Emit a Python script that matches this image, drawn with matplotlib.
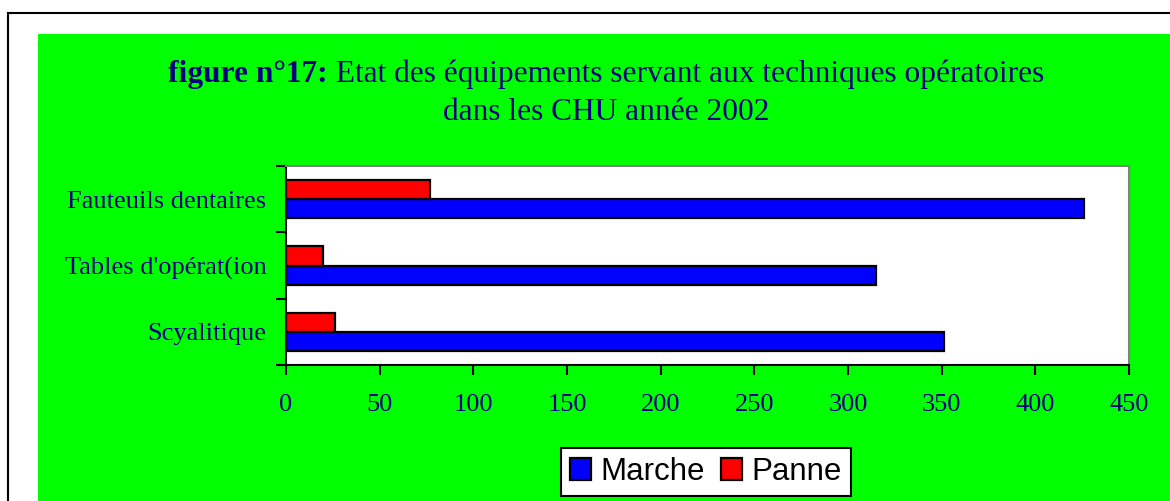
import numpy as np
import matplotlib.pyplot as plt
from matplotlib.patches import Rectangle
from matplotlib.lines import Line2D

# données
categories = ['Scyalitique', "Tables d'opérat(ion", 'Fauteuils dentaires']
marche = [351, 315, 426]
panne = [26, 20, 77]

navy = '#000080'
serif = 'Liberation Serif'

fig = plt.figure(figsize=(11.7, 5.01), dpi=100)
fig.patch.set_facecolor('white')

# cadre extérieur + fond vert
fig.add_artist(Line2D([7.5/1170, 7.5/1170], [0, 1 - 12.5/501], color='black', lw=1.5, zorder=-20))
fig.add_artist(Line2D([7.5/1170, 1], [1 - 12.5/501, 1 - 12.5/501], color='black', lw=1.5, zorder=-20))
fig.add_artist(Rectangle((38/1170, 0), 1, 1 - 34/501, facecolor='#00FF00',
                         edgecolor='none', transform=fig.transFigure, zorder=-10))

ax = fig.add_axes([286/1170, 1 - 365/501, (1129 - 286)/1170, (365 - 166)/501])
ax.set_zorder(1)
ax.set_facecolor('white')

y = np.arange(len(categories))
h = 0.29
ax.barh(y - h/2, marche, height=h, color='#0000FF', edgecolor='black', lw=1.6, label='Marche')
ax.barh(y + h/2, panne, height=h, color='#FF0000', edgecolor='black', lw=1.6, label='Panne')

ax.set_xlim(0, 450)
ax.set_ylim(-0.5, 2.5)
ax.set_xticks(np.arange(0, 451, 50))
ax.set_yticks([-0.5, 0.5, 1.5, 2.5])
ax.set_yticklabels([])
ax.set_yticks(y, minor=True)
ax.set_yticklabels(categories, minor=True)
ax.tick_params(axis='y', which='major', direction='out', length=7, width=1.5)
ax.tick_params(axis='y', which='minor', length=0, pad=14, labelsize=19, labelcolor=navy)
ax.tick_params(axis='x', direction='out', length=7, width=1.5, pad=14,
               labelsize=19, labelcolor=navy)
for lab in ax.get_xticklabels() + ax.get_yticklabels(minor=True):
    lab.set_fontfamily(serif)

for s in ['left', 'bottom']:
    ax.spines[s].set_linewidth(1.5)
for s in ['top', 'right']:
    ax.spines[s].set_color('#808080')
    ax.spines[s].set_linewidth(1.5)

# titre
cx = 606/1170
t1 = fig.text(0, 1 - 82/501, 'figure n°17:', fontsize=22.6, fontweight='bold',
              color=navy, family=serif, va='baseline')
t2 = fig.text(0, 1 - 82/501, ' Etat des équipements servant aux techniques opératoires',
              fontsize=22.6, color=navy, family=serif, va='baseline')
r = fig.canvas.get_renderer()
w1 = t1.get_window_extent(r).width / 1170
w2 = t2.get_window_extent(r).width / 1170
x0 = cx - (w1 + w2)/2
t1.set_x(x0)
t2.set_x(x0 + w1)
fig.text(cx, 1 - 120/501, 'dans les CHU année 2002', fontsize=22.6, color=navy,
         family=serif, ha='center', va='baseline')

leg = fig.legend(loc='center', bbox_to_anchor=(706/1170, 1 - 472/501), ncol=2,
                 prop={'family': 'Liberation Sans', 'size': 22.5}, frameon=True,
                 fancybox=False, edgecolor='black', handlelength=0.68,
                 handleheight=0.68, handletextpad=0.3, columnspacing=0.5,
                 borderpad=0.3, borderaxespad=0)
leg.get_frame().set_linewidth(1.5)
leg.get_frame().set_alpha(None)
leg.get_frame().set_facecolor('white')

fig.savefig('out.png', dpi=100)
